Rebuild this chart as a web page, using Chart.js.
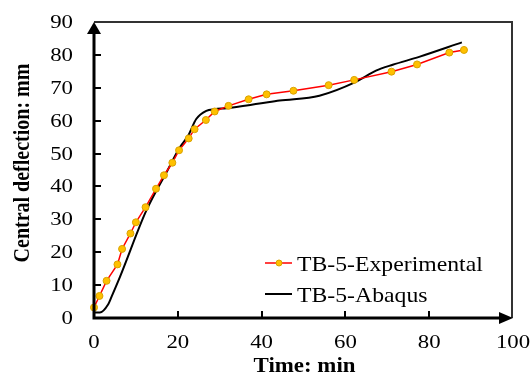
<!DOCTYPE html>
<html>
<head>
<meta charset="utf-8">
<script src="https://cdn.jsdelivr.net/npm/chart.js@4"></script>
<style>
  html, body { margin: 0; padding: 0; background: #fff; }
  #wrap { width: 532px; height: 376px; }
</style>
</head>
<body>
<div id="wrap"><canvas id="chart"></canvas></div>
<script>
// values
var expTime = [0, 1.3, 3.0, 5.6, 6.7, 8.7, 10.0, 12.3, 14.8, 16.7, 18.7, 20.3, 22.6, 24.0, 26.7, 28.8, 32.1, 36.9, 41.2, 47.6, 56.0, 62.1, 71.0, 77.1, 84.8, 88.3];
var expDefl = [3.2, 6.7, 11.3, 16.3, 21.0, 25.7, 29.1, 33.7, 39.3, 43.4, 47.2, 51.0, 54.6, 57.4, 60.2, 62.8, 64.5, 66.5, 68.0, 69.1, 70.8, 72.4, 74.9, 77.1, 80.7, 81.5];
var abqTime = [0, 1.4, 3.4, 4.2, 6.2, 12.5, 17.5, 20.5, 22.5, 24.4, 26.8, 28.8, 31.6, 39.5, 44.3, 53.8, 62.5, 67.3, 71.3, 77.6, 87.8];
var abqDefl = [1.7, 1.7, 4.2, 6.5, 12.5, 32.7, 44.8, 51.9, 55.5, 60.5, 63.0, 63.5, 63.8, 65.2, 66.1, 67.6, 71.8, 75.2, 77.0, 79.4, 83.8];
var seriesNames = ['TB-5-Experimental', 'TB-5-Abaqus'];
var xTicks = [0, 20, 40, 60, 80, 100];
var yTicks = [0, 10, 20, 30, 40, 50, 60, 70, 80, 90];
var xTitle = 'Time: min';
var yTitle = 'Central deflection: mm';

function toPoints(xs, ys) {
    return xs.map(function (x, i) { return { x: x, y: ys[i] }; });
}

var FONT = 'Liberation Serif, Times New Roman, serif';

// the reference text is a bit stretched sideways, so text is drawn by hand
function stretchText(c, txt, x, y, sx, sy, align, base, rot) {
    c.save();
    c.translate(x, y);
    if (rot) c.rotate(rot);
    c.scale(sx, sy);
    c.textAlign = align;
    c.textBaseline = base;
    c.fillText(txt, 0, 0);
    c.restore();
}

// axes with arrows, inward ticks, box, labels, legend
var axisDecor = {
    id: 'axisDecor',
    afterDatasetsDraw: function (chart) {
        var c = chart.ctx, a = chart.chartArea;
        var xs = chart.scales.x, ys = chart.scales.y;
        c.save();
        // thin top / right frame
        c.strokeStyle = '#333';
        c.lineWidth = 2;
        c.beginPath();
        c.moveTo(a.left, a.top);
        c.lineTo(a.right - 1, a.top);
        c.lineTo(a.right - 1, a.bottom);
        c.stroke();
        // thick left / bottom axes
        c.strokeStyle = '#000';
        c.lineWidth = 3;
        c.beginPath();
        c.moveTo(a.left, a.top + 8);
        c.lineTo(a.left, a.bottom);
        c.lineTo(a.right - 8, a.bottom);
        c.stroke();
        c.fillStyle = '#000';
        c.beginPath();
        c.moveTo(a.left, a.top);
        c.lineTo(a.left - 7, a.top + 12);
        c.lineTo(a.left + 7, a.top + 12);
        c.closePath();
        c.fill();
        c.beginPath();
        c.moveTo(a.right, a.bottom);
        c.lineTo(a.right - 14, a.bottom - 6);
        c.lineTo(a.right - 14, a.bottom + 6);
        c.closePath();
        c.fill();
        // inward tick marks
        c.lineWidth = 2;
        c.beginPath();
        yTicks.forEach(function (v) {
            if (v === 0 || v === 90) return;
            var py = Math.round(ys.getPixelForValue(v));
            c.moveTo(a.left, py);
            c.lineTo(a.left + 7, py);
        });
        xTicks.forEach(function (v) {
            if (v === 0 || v === 100) return;
            var px = Math.round(xs.getPixelForValue(v));
            c.moveTo(px, a.bottom);
            c.lineTo(px, a.bottom - 7);
        });
        c.stroke();
        // tick labels
        c.fillStyle = '#000';
        c.font = '19px ' + FONT;
        yTicks.forEach(function (v) {
            stretchText(c, String(v), a.left - 21, ys.getPixelForValue(v) + 1, 1.2, 1, 'right', 'middle');
        });
        xTicks.forEach(function (v) {
            stretchText(c, String(v), xs.getPixelForValue(v), a.bottom + 30, 1.2, 1, 'center', 'alphabetic');
        });
        // axis titles
        c.font = 'bold 21px ' + FONT;
        stretchText(c, xTitle, (a.left + a.right) / 2 + 1, 372, 1.09, 1, 'center', 'alphabetic');
        c.font = 'bold 20px ' + FONT;
        stretchText(c, yTitle, 23, 163, 1, 1.2, 'center', 'middle', -Math.PI / 2);
        // legend
        var ds = chart.data.datasets;
        var rows = [263, 294];
        ds.forEach(function (d, i) {
            var y = rows[i];
            c.strokeStyle = d.borderColor;
            c.lineWidth = d.borderWidth;
            c.beginPath();
            c.moveTo(265, y);
            c.lineTo(292, y);
            c.stroke();
            if (d.pointRadius > 0) {
                c.fillStyle = d.pointBackgroundColor;
                c.strokeStyle = d.pointBorderColor;
                c.lineWidth = 1;
                c.beginPath();
                c.arc(279, y, 3, 0, Math.PI * 2);
                c.fill();
                c.stroke();
            }
            c.fillStyle = '#000';
            c.font = '21px ' + FONT;
            stretchText(c, d.label, 297, y + 7.5, 1.13, 1, 'left', 'alphabetic');
        });
        c.restore();
    }
};

new Chart(document.getElementById('chart').getContext('2d'), {
    type: 'line',
    data: {
        datasets: [{
            label: seriesNames[0],
            data: toPoints(expTime, expDefl),
            borderColor: '#ff0000',
            borderWidth: 1.5,
            pointRadius: 3.5,
            pointBackgroundColor: '#ffc000',
            pointBorderColor: '#d9a300',
            pointBorderWidth: 1,
            tension: 0,
            clip: false
        }, {
            label: seriesNames[1],
            data: toPoints(abqTime, abqDefl),
            borderColor: '#000000',
            borderWidth: 2,
            pointRadius: 0,
            cubicInterpolationMode: 'monotone',
            clip: false
        }]
    },
    options: {
        responsive: true,
        maintainAspectRatio: false,
        animation: false,
        layout: { padding: { top: 22, right: 19, left: 0, bottom: 0 } },
        plugins: { legend: { display: false }, tooltip: { enabled: false } },
        scales: {
            x: {
                type: 'linear',
                min: 0, max: 100,
                afterFit: function (s) { s.height = 58; },
                afterBuildTicks: function (s) { s.ticks = xTicks.map(function (v) { return { value: v }; }); },
                grid: { display: false, drawTicks: false },
                border: { display: false },
                ticks: { display: false }
            },
            y: {
                min: 0, max: 90,
                afterFit: function (s) { s.width = 94; },
                afterBuildTicks: function (s) { s.ticks = yTicks.map(function (v) { return { value: v }; }); },
                grid: { display: false, drawTicks: false },
                border: { display: false },
                ticks: { display: false }
            }
        }
    },
    plugins: [axisDecor]
});
</script>
</body>
</html>
